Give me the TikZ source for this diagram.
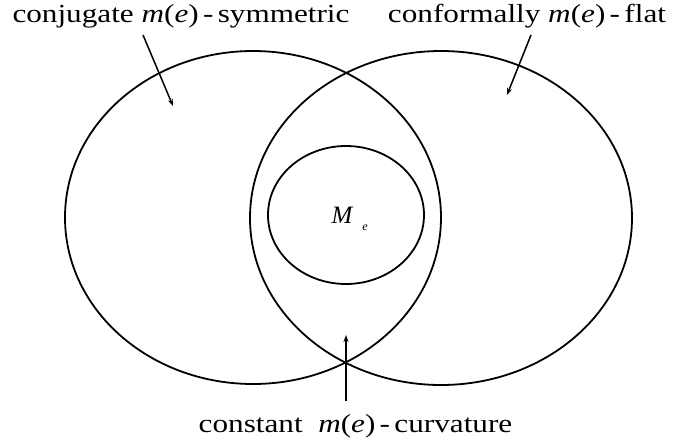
\documentclass[tikz,border=0pt]{standalone}
\usepackage{fontspec}
\setmainfont{Liberation Serif}
\newfontfamily\lblfont[FakeStretch=1.2]{Liberation Serif}
\usetikzlibrary{arrows.meta,positioning}

\tikzset{lbl/.style={anchor=base,inner sep=0pt,font=\lblfont\fontsize{26}{28}\selectfont}}

\begin{document}
\begin{tikzpicture}[>={Stealth[length=7pt,width=5pt]},x=1pt,y=-1pt,line width=1.8pt]
\useasboundingbox (0,0) rectangle (678,445);
% the three classes
\draw (253,217.5) ellipse[x radius=188,y radius=166.5];
\draw (441,218) ellipse[x radius=191,y radius=167];
\draw (346,215) ellipse[x radius=78,y radius=69];
\node[anchor=base,inner sep=0pt,font=\fontsize{25}{27}\selectfont] (me) at (342.5,223) {\textit{M}};
\node[anchor=base west,inner sep=0pt,font=\fontsize{12}{12}\selectfont] (mesub) at ([xshift=7pt,yshift=-7pt]me.base east) {\textit{e}};
% labels
\node[lbl] (sym) at (181,22) {conjugate \textit{m}(\textit{e})\,-\,symmetric};
\node[lbl] (flat) at (527,22) {conformally \textit{m}(\textit{e})\,-\,flat};
\node[lbl] (curv) at (355.5,432) {constant\ \ \textit{m}(\textit{e})\,-\,curvature};
\coordinate (symfoot) at (143,35);
\coordinate (symtip) at (173,106);
\coordinate (flatfoot) at (531,35);
\coordinate (flattip) at (507,95);
\coordinate (curvfoot) at (346,401);
\coordinate (curvtip) at (346,335);
\draw[->,line width=1.5pt] (symfoot) -- (symtip);
\draw[->,line width=1.5pt] (flatfoot) -- (flattip);
\draw[->,line width=1.5pt] (curvfoot) -- (curvtip);
\end{tikzpicture}
\end{document}
